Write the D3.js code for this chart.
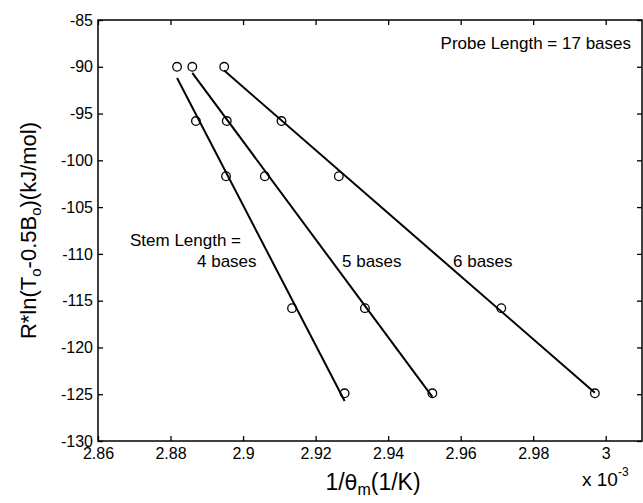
<!DOCTYPE html>
<html>
<head>
<meta charset="utf-8">
<script src="https://cdn.jsdelivr.net/npm/d3@7"></script>
<style>
  html, body { margin: 0; padding: 0; background: #fff; }
  svg { display: block; font-family: "Liberation Sans", Arial, Helvetica, sans-serif; }
</style>
</head>
<body>
<svg id="chart" width="643" height="503"></svg>
<script>
// ---- data (x in units of 1e-3 1/K, y in kJ/mol) ----
const yValues = [-90.0, -95.8, -101.7, -115.8, -124.9];
const x4bases = [2.8818, 2.8870, 2.8953, 2.9135, 2.9280];
const x5bases = [2.8860, 2.8955, 2.9060, 2.9336, 2.9522];
const x6bases = [2.8948, 2.9106, 2.9264, 2.9712, 2.9970];
const seriesNames = ["4 bases", "5 bases", "6 bases"];
const xTickValues = [2.86, 2.88, 2.90, 2.92, 2.94, 2.96, 2.98, 3.00];
const xTickLabels = ["2.86", "2.88", "2.9", "2.92", "2.94", "2.96", "2.98", "3"];
const yTickValues = [-130, -125, -120, -115, -110, -105, -100, -95, -90, -85];

const svg = d3.select("#chart");
const L = 98, R = 642, T = 20, B = 441;

const x = d3.scaleLinear().domain([2.86, 3.01]).range([L, R]);
const y = d3.scaleLinear().domain([-130, -85]).range([B, T]);

// axes with inward ticks
const fs = "16px";
const gx = svg.append("g").attr("transform", `translate(0,${B})`)
  .call(d3.axisBottom(x).tickValues(xTickValues)
    .tickFormat((d, i) => xTickLabels[i]).tickSizeInner(-5).tickSizeOuter(0).tickPadding(8));
const gxt = svg.append("g").attr("transform", `translate(0,${T})`)
  .call(d3.axisTop(x).tickValues(xTickValues).tickFormat("").tickSizeInner(-5).tickSizeOuter(0));
const gy = svg.append("g").attr("transform", `translate(${L},0)`)
  .call(d3.axisLeft(y).tickValues(yTickValues).tickFormat(d => String(d)).tickSizeInner(-5).tickSizeOuter(0).tickPadding(5));
const gyr = svg.append("g").attr("transform", `translate(${R},0)`)
  .call(d3.axisRight(y).tickValues(yTickValues).tickFormat("").tickSizeInner(-5).tickSizeOuter(0));

[gx, gxt, gy, gyr].forEach(g => {
  g.select(".domain").remove();
  g.selectAll("line").attr("stroke", "#000").attr("stroke-width", 1.3);
  g.selectAll("text").attr("fill", "#000").style("font-size", fs)
    .style("font-family", '"Liberation Sans", Arial, sans-serif');
});
gx.selectAll("text").attr("y", 7);

// frame
svg.append("rect").attr("x", L).attr("y", T).attr("width", R - L).attr("height", B - T)
  .attr("fill", "none").attr("stroke", "#000").attr("stroke-width", 1.5);

// series & regression lines
const series = [x4bases, x5bases, x6bases];
const line = d3.line().x(d => x(d[0])).y(d => y(d[1]));
series.forEach(xs => {
  const mx = d3.mean(xs), my = d3.mean(yValues);
  let sxy = 0, sxx = 0;
  xs.forEach((v, i) => { sxy += (v - mx) * (yValues[i] - my); sxx += (v - mx) * (v - mx); });
  const b = sxy / sxx, a = my - b * mx;
  const x0 = d3.min(xs), x1 = d3.max(xs);
  svg.append("path").datum([[x0, a + b * x0], [x1, a + b * x1]])
    .attr("d", line).attr("fill", "none").attr("stroke", "#000").attr("stroke-width", 2);
  svg.selectAll(null).data(xs.map((v, i) => [v, yValues[i]])).enter()
    .append("circle")
    .attr("cx", d => x(d[0])).attr("cy", d => y(d[1])).attr("r", 4.3)
    .attr("fill", "none").attr("stroke", "#000").attr("stroke-width", 1.3);
});

// annotations
const ann = svg.append("g").style("font-size", "17px").attr("fill", "#000");
ann.append("text").attr("x", 631).attr("y", 49).attr("text-anchor", "end").text("Probe Length = 17 bases");
ann.append("text").attr("x", 130).attr("y", 246).text("Stem Length =");
ann.append("text").attr("x", 197).attr("y", 267).text(seriesNames[0]);
ann.append("text").attr("x", 342).attr("y", 267).text(seriesNames[1]);
ann.append("text").attr("x", 453).attr("y", 267).text(seriesNames[2]);

// x 10^-3 multiplier
const mult = svg.append("text").attr("x", 582).attr("y", 486).style("font-size", "19px");
mult.append("tspan").text("x 10");
mult.append("tspan").attr("dy", -10).style("font-size", "12px").text("-3");

// x axis label
const xl = svg.append("text").attr("x", 373).attr("y", 490).attr("text-anchor", "middle").style("font-size", "23px");
xl.append("tspan").text("1/");
xl.append("tspan").style("font-family", '"DejaVu Sans", sans-serif').style("font-size", "21px").text("θ");
xl.append("tspan").attr("dy", 5).style("font-size", "16px").text("m");
xl.append("tspan").attr("dy", -5).text("(1/K)");

// y axis label
const yl = svg.append("text").attr("transform", `translate(36,${(T + B) / 2}) rotate(-90)`)
  .attr("text-anchor", "middle").style("font-size", "22px");
yl.append("tspan").text("R*ln(T");
yl.append("tspan").attr("dy", 5).style("font-size", "15px").text("o");
yl.append("tspan").attr("dy", -5).text("-0.5B");
yl.append("tspan").attr("dy", 5).style("font-size", "15px").text("o");
yl.append("tspan").attr("dy", -5).text(")(kJ/mol)");
</script>
</body>
</html>
